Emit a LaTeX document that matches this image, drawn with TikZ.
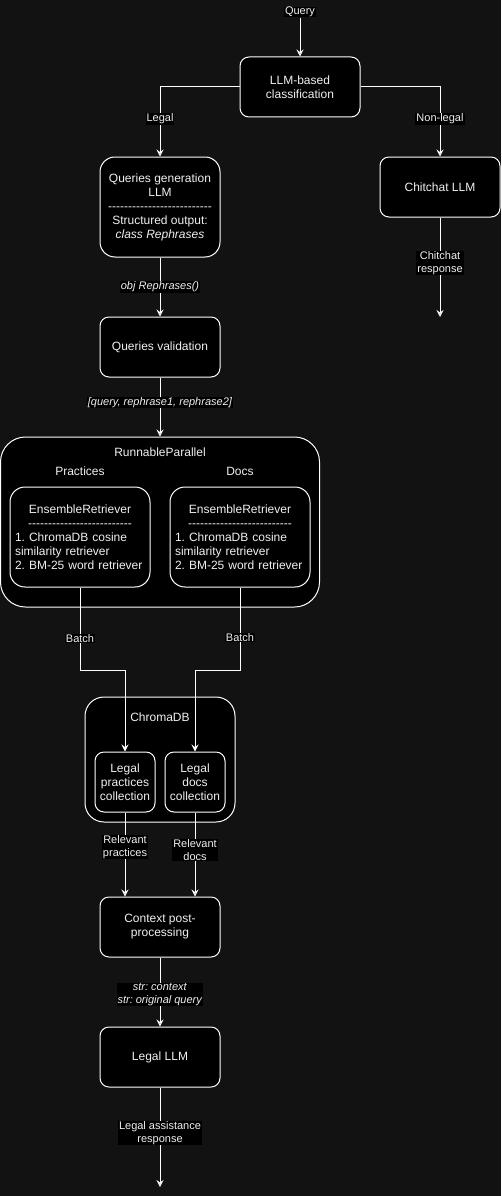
\documentclass[tikz,border=0pt]{standalone}
\usepackage{fontspec}
\setmainfont{Liberation Sans}
\usepackage{tikz, color}
\usetikzlibrary{positioning, arrows.meta, calc}
\definecolor{bgdark}{HTML}{121212}
\definecolor{txtlight}{HTML}{F0F0F0}
\frenchspacing
\newcommand\dashrow{\foreach \k in {1,...,26}{-\kern0pt}} % separator line typed as hyphens
\tikzset{
  flow/.style={
	->,  % directed connectors
	>={Stealth[length=7pt,width=7pt,inset=2.5pt]}, % block arrow heads
	draw=white, line width=1pt, % white lines on the dark page
	every node/.style={lbl}, % labels sit on a black patch
  },
  box/.style={draw=white, fill=black, line width=1pt, text=txtlight, rounded corners=9pt,
	minimum width=120pt, minimum height=60pt, align=center, inner sep=0pt,
	font=\fontsize{12}{14}\selectfont},
  lbl/.style={fill=black, text=txtlight, inner xsep=1pt, inner ysep=0.5pt, align=center,
	font=\fontsize{11}{13}\selectfont},
  boxtitle/.style={text=txtlight, inner sep=0pt, font=\fontsize{12}{14}\selectfont},
  elbow/.style={to path={-| (\tikztotarget) \tikztonodes}}, % horizontal then down
}

\begin{document}
\begin{tikzpicture}[x=1pt, y=-1pt]
	  \fill[bgdark] (0,0) rectangle (501,1196);
	  \node[lbl] (query) at (300,12) {Query};
	  \node[box] (cls) at (300,87) {LLM-based\\classification};
	  \node[box, rounded corners=15pt, minimum height=100pt] (qgen) at (160,207) {Queries generation\\LLM\\\dashrow\\Structured output:\\\textit{class Rephrases}};
	  \node[box] (chat) at (440,187) {Chitchat LLM};
	  \coordinate (chatend) at (440,317);
	  \node[box] (qval) at (160,347) {Queries validation};
	  \node[box, rounded corners=25pt, minimum width=319pt, minimum height=170pt] (par) at (160,522) {};
	  \node[boxtitle] (partitle) at (160,452) {RunnableParallel};
	  \node[boxtitle] (prac) at (80,471) {Practices};
	  \node[boxtitle] (docs) at (240,471) {Docs};
	  \node[box, rounded corners=15pt, minimum width=140pt, minimum height=100pt, text width=130pt, align=left] (ensP) at (80,537) {\makebox[130pt]{EnsembleRetriever}\\\makebox[130pt]{\dashrow}\\1. ChromaDB cosine\\similarity retriever\\2. BM-25 word retriever};
	  \node[box, rounded corners=15pt, minimum width=140pt, minimum height=100pt, text width=130pt, align=left] (ensD) at (240,537) {\makebox[130pt]{EnsembleRetriever}\\\makebox[130pt]{\dashrow}\\1. ChromaDB cosine\\similarity retriever\\2. BM-25 word retriever};
	  \node[box, rounded corners=19pt, minimum width=150pt, minimum height=125pt] (chroma) at (160,759.5) {};
	  \node[boxtitle] (chromatitle) at (160,717) {ChromaDB};
	  \node[box, minimum width=60pt] (colP) at (125,782) {Legal\\practices\\collection};
	  \node[box, minimum width=60pt] (colD) at (195,782) {Legal\\docs\\collection};
	  \node[box] (ctx) at (160,927) {Context post-\\processing};
	  \node[box] (llm) at (160,1057) {Legal LLM};
	  \coordinate (llmend) at (160,1187);
	  \draw[flow] (query) edge (cls)
		  (cls) edge[elbow] node[pos=0.73]{Legal} (qgen)
		  (cls) edge[elbow] node[pos=0.73]{Non-legal} (chat)
		  (chat) edge node[pos=0.46]{Chitchat\\response} (chatend)
		  (qgen) edge node{\textit{obj Rephrases()}} (qval)
		  (qval) edge node[pos=0.42]{\textit{[query, rephrase1, rephrase2]}} (par)
		  (colP) edge node[pos=0.41]{Relevant\\practices} (colP |- ctx.north)
		  (colD) edge node[pos=0.45]{Relevant\\docs} (colD |- ctx.north)
		  (ctx) edge node[pos=0.54]{\textit{str: context}\\\textit{str: original query}} (llm)
		  (llm) edge node[pos=0.46]{Legal assistance\\response} (llmend)
	  ;
	  \draw[flow] (ensP.south) -- node[pos=0.61]{Batch} ++(0,83) -| (colP.north);
	  \draw[flow] (ensD.south) -- node[pos=0.6]{Batch} ++(0,83) -| (colD.north);
\end{tikzpicture}
\end{document}
